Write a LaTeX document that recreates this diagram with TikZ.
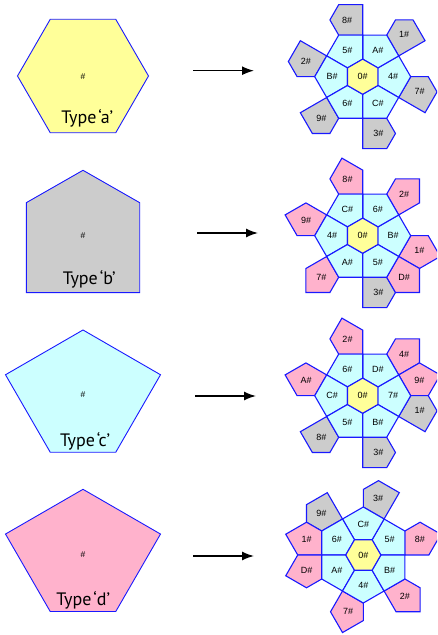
\documentclass[tikz,border=0pt]{standalone}
\usepackage{fontspec}
\setmainfont{Liberation Sans}
\newfontfamily\typefont{PT Sans}
\usetikzlibrary{arrows.meta}
\definecolor{hexyellow}{RGB}{255,255,153}
\definecolor{cyanfill}{RGB}{204,255,255}
\definecolor{grayfill}{RGB}{204,204,204}
\definecolor{pinkfill}{RGB}{255,178,204}
\definecolor{edgeblue}{RGB}{25,25,255}
\tikzset{
 tile/.style={draw=edgeblue, line width=1.1pt, line join=miter},
 bigtile/.style={draw=edgeblue, line width=0.9pt, line join=miter},
 lbl/.style={font=\fontsize{9}{9}\selectfont, inner sep=0pt},
 hashlbl/.style={font=\fontsize{8.5}{8.5}\selectfont, inner sep=0pt},
 typelbl/.style={font=\typefont\fontsize{18}{18}\selectfont, inner sep=0pt, anchor=base},
 arr/.style={line width=1.5pt, -{Latex[length=12pt,width=9pt]}},
}
% tiling: #1 name, #2 centre, #3 rotation, #4..#9 labels of the six cyan pieces
\newcommand\tiling[9]{%
 \begin{scope}[shift={#2}, rotate=#3]
  \foreach \k/\t in {0/#4,1/#5,2/#6,3/#7,4/#8,5/#9} {
    \draw[tile, fill=cyanfill] ({60*\k-30}:17.57) -- ({60*\k-30}:41.569) -- ({60*\k}:48) -- ({60*\k+30}:41.569) -- ({60*\k+30}:17.57) -- cycle;
    \node[lbl] (#1c\k) at ({60*\k}:30.5) {\t};
  }
  \draw[tile, fill=hexyellow] (30:17.57) -- (90:17.57) -- (150:17.57) -- (210:17.57) -- (270:17.57) -- (330:17.57) -- cycle;
  \node[lbl] (#1z) at (0,0) {0\#};
 \end{scope}}
% house piece: #1 name, #2 centre, #3 angle, #4 side (1 or -1), #5 label
\newcommand\housepc[5]{%
 \begin{scope}[shift={#2}, rotate=#3]
  \draw[tile, fill=grayfill] (41.569,0) -- (41.569,{#4*24}) -- (56.784,{#4*32.785}) -- (71.999,{#4*24}) -- (71.999,0) -- cycle;
  \node[lbl] (#1) at (56.7,{#4*15.6}) {#5};
 \end{scope}}
% pink piece
\newcommand\pinkpc[5]{%
 \begin{scope}[shift={#2}, rotate=#3]
  \draw[tile, fill=pinkfill] (41.569,0) -- (41.569,{#4*24}) -- (56.784,{#4*32.785}) -- (77.569,{#4*20.785}) -- (65.569,0) -- cycle;
  \node[lbl] (#1) at (56.6,{#4*15.2}) {#5};
 \end{scope}}
\begin{document}
\begin{tikzpicture}[x=1pt,y=1pt]
\useasboundingbox (0,0) rectangle (437,635);
\clip (0,0) rectangle (437,635);

% ---- left shapes
\draw[bigtile, fill=hexyellow] (83,559) ++(0:65.5) -- ++(120:65.5) -- ++(180:65.5) -- ++(240:65.5) -- ++(300:65.5) -- ++(0:65.5) -- cycle;
\node[hashlbl] (ha) at (83,558.7) {\#};
\node[typelbl] (tya) at (87.3,511) {Type\kern2pt‘a’};

\draw[bigtile, fill=grayfill] (83,464.7) -- (26.3,432.3) -- (26.3,342.3) -- (139.7,342.3) -- (139.7,432.3) -- cycle;
\node[hashlbl] (hb) at (83,399) {\#};
\node[typelbl] (tyb) at (89.2,350.7) {Type\kern2pt‘b’};

\draw[bigtile, fill=cyanfill] (83,305) -- (5.5,260.25) -- (50.25,182.75) -- (115.75,182.75) -- (160.5,260.25) -- cycle;
\node[hashlbl] (hc) at (83,240) {\#};
\node[typelbl] (tyc) at (85,188.3) {Type\kern2pt‘c’};

\draw[bigtile, fill=pinkfill] (83,145.7) -- (5.5,100.95) -- (50.25,23.45) -- (115.75,23.45) -- (160.5,100.95) -- cycle;
\node[hashlbl] (hd) at (83,80) {\#};
\node[typelbl] (tyd) at (83.3,29.3) {Type\kern2pt‘d’};

% ---- arrows
\coordinate (a1s) at (193,564.3); \coordinate (a1e) at (254,564.3);
\coordinate (a2s) at (197,402);   \coordinate (a2e) at (258,402);
\coordinate (a3s) at (195,239);   \coordinate (a3e) at (256,239);
\coordinate (a4s) at (193,79);    \coordinate (a4e) at (254,79);
\draw[arr] (a1s) -- (a1e);
\draw[arr] (a2s) -- (a2e);
\draw[arr] (a3s) -- (a3e);
\draw[arr] (a4s) -- (a4e);

% ---- tiling 1
\housepc{ta1}{(362.7,558.3)}{30}{1}{1\#}
\housepc{ta8}{(362.7,558.3)}{90}{1}{8\#}
\housepc{ta2}{(362.7,558.3)}{150}{1}{2\#}
\housepc{ta9}{(362.7,558.3)}{210}{1}{9\#}
\housepc{ta3}{(362.7,558.3)}{270}{1}{3\#}
\housepc{ta7}{(362.7,558.3)}{330}{1}{7\#}
\tiling{ta}{(362.7,558.3)}{0}{4\#}{A\#}{5\#}{B\#}{6\#}{C\#}

% ---- tiling 2
\pinkpc{tb2}{(362.7,399.3)}{30}{1}{2\#}
\pinkpc{tb8}{(362.7,399.3)}{90}{1}{8\#}
\pinkpc{tb9}{(362.7,399.3)}{150}{1}{9\#}
\pinkpc{tb7}{(362.7,399.3)}{210}{1}{7\#}
\housepc{tb3}{(362.7,399.3)}{270}{1}{3\#}
\pinkpc{tb1}{(362.7,399.3)}{330}{1}{1\#}
\pinkpc{tbD}{(362.7,399.3)}{330}{-1}{D\#}
\tiling{tb}{(362.7,399.3)}{0}{B\#}{6\#}{C\#}{4\#}{A\#}{5\#}

% ---- tiling 3
\pinkpc{tc4}{(362.7,239.3)}{30}{1}{4\#}
\pinkpc{tc9}{(362.7,239.3)}{30}{-1}{9\#}
\pinkpc{tc2}{(362.7,239.3)}{90}{1}{2\#}
\pinkpc{tcA}{(362.7,239.3)}{150}{1}{A\#}
\housepc{tc8}{(362.7,239.3)}{210}{1}{8\#}
\housepc{tc3}{(362.7,239.3)}{270}{1}{3\#}
\housepc{tc1}{(362.7,239.3)}{330}{1}{1\#}
\tiling{tc}{(362.7,239.3)}{0}{7\#}{D\#}{6\#}{C\#}{5\#}{B\#}

% ---- tiling 4
\housepc{td3}{(363.3,80)}{60}{1}{3\#}
\housepc{td9}{(363.3,80)}{120}{1}{9\#}
\pinkpc{td1}{(363.3,80)}{180}{-1}{1\#}
\pinkpc{tdD}{(363.3,80)}{180}{1}{D\#}
\pinkpc{td7}{(363.3,80)}{240}{1}{7\#}
\pinkpc{td2}{(363.3,80)}{300}{1}{2\#}
\pinkpc{td8}{(363.3,80)}{0}{1}{8\#}
\tiling{td}{(363.3,80)}{30}{5\#}{C\#}{6\#}{A\#}{4\#}{B\#}
\end{tikzpicture}
\end{document}
